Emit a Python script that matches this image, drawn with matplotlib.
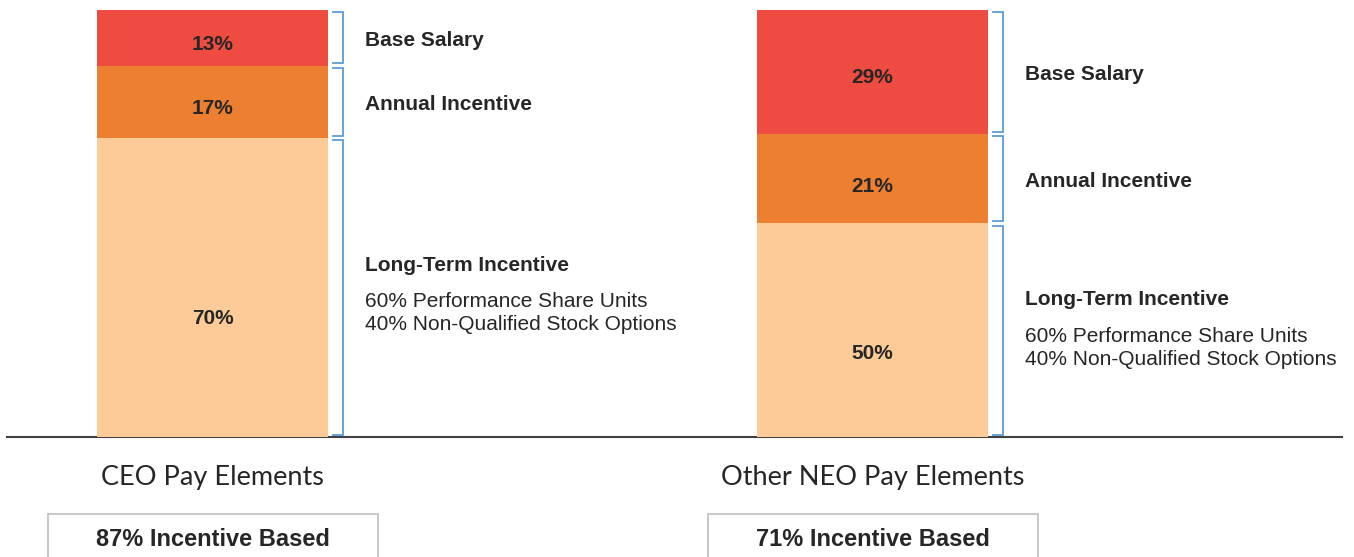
import matplotlib.pyplot as plt
from matplotlib.patches import Rectangle

# Data
groups = ["CEO Pay Elements", "Other NEO Pay Elements"]
components = ["Base Salary", "Annual Incentive", "Long-Term Incentive"]
ceo_values = [13, 17, 70]
neo_values = [29, 21, 50]
incentive_labels = ["87% Incentive Based", "71% Incentive Based"]
lti_details = ["60% Performance Share Units", "40% Non-Qualified Stock Options"]

# Styles
colors = ["#EE4C40", "#ED7F31", "#FDCB98"]
bracket_color = "#5B9BD5"
text_color = "#262626"
font = "Liberation Sans"
title_font = "Lato"
bar_width = 0.35
# vertical shift (px, downwards) of the value labels inside the bars
label_shift = [[3.5, 4, 28], [2.5, 5, 20]]
# long-term incentive text block offsets (px, downwards from segment middle)
lti_offsets = [(-25, 11, 34), (-34, 3, 26)]
VA_FIX = 3  # va="center" sits a bit high for caps text

PX = 0.72  # points per pixel at dpi 100

fig = plt.figure(figsize=(13.54, 5.57), dpi=100)
ax = fig.add_axes([0, 120 / 557, 1, 427 / 557])
ax.set_xlim(-212.5 / 660, (1354 - 212.5) / 660)
ax.set_ylim(0, 100)
ax.axis("off")

# baseline
ax.axhline(0, xmin=7 / 1354, xmax=1342 / 1354, color="#404040", lw=1.5, clip_on=False)


def put_text(s, xy, dy_px, **kw):
    ax.annotate(s, xy, xytext=(0, -(dy_px + VA_FIX) * PX), textcoords="offset points",
                va="center", color=text_color, **kw)


for i, values in enumerate([ceo_values, neo_values]):
    x = i
    top = 100
    right = x + bar_width / 2
    for j, val in enumerate(values):
        bottom = top - val
        ax.bar(x, val, bottom=bottom, width=bar_width, color=colors[j], zorder=2)
        mid = bottom + val / 2
        put_text(f"{val}%", (x, mid), label_shift[i][j], ha="center",
                 fontsize=15, fontweight="bold", family=font)

        # bracket
        b0 = right + 5 / 660
        b1 = right + 15 / 660
        ax.plot([b0, b1, b1, b0], [top - 0.5, top - 0.5, bottom + 0.5, bottom + 0.5],
                color=bracket_color, lw=1.3, solid_joinstyle="miter")

        # component labels
        lx = right + 37 / 660
        if j < 2:
            put_text(components[j], (lx, mid), 0, ha="left", fontsize=15,
                     fontweight="bold", family=font)
        else:
            offs = lti_offsets[i]
            put_text(components[j], (lx, mid), offs[0], ha="left", fontsize=15,
                     fontweight="bold", family=font)
            for k, line in enumerate(lti_details):
                put_text(line, (lx, mid), offs[k + 1], ha="left", fontsize=15, family=font)
        top = bottom

    # group title below baseline
    put_text(groups[i], (x, 0), 38, ha="center", fontsize=19.5, family=title_font)

    # incentive box
    box_w = 330 / 660
    box_top = -77 / 4.27
    ax.add_patch(Rectangle((x - box_w / 2, box_top - 30), box_w, 30, facecolor="white",
                           edgecolor="#BFBFBF", lw=1.2, clip_on=False))
    put_text(incentive_labels[i], (x, 0), 99, ha="center", fontsize=17,
             fontweight="bold", family=font)

fig.savefig("out.png", dpi=100)
